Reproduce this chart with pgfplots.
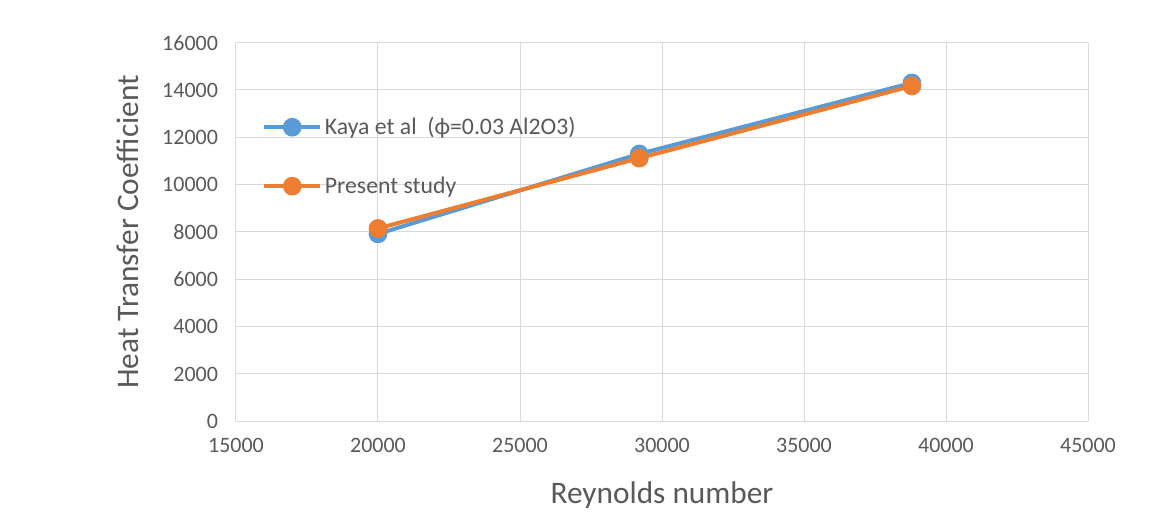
\documentclass[border=0pt]{standalone}
\usepackage{fontspec}
\setmainfont{Carlito}
\usepackage{pgfplots}
\pgfplotsset{compat=1.18}
\definecolor{txtgray}{HTML}{595959}
\definecolor{gridgray}{HTML}{D9D9D9}
\definecolor{kayablue}{HTML}{5B9BD5}
\definecolor{presorange}{HTML}{ED7D31}
\begin{document}
\begin{tikzpicture}
\useasboundingbox (-177pt,-71pt) rectangle (684.75pt,316pt);
\begin{axis}[
  scale only axis, width=639pt, height=284pt,
  xmin=15000, xmax=45000, ymin=0, ymax=16000,
  xtick distance=5000, ytick distance=2000,
  grid=major, major grid style={gridgray, line width=0.75pt},
  axis line style={draw=none}, tick style={draw=none},
  ticklabel style={font=\fontsize{16.5}{19}\selectfont, text=txtgray},
  xticklabel style={yshift=-9pt},
  yticklabel style={xshift=-10pt},
  /pgf/number format/assume math mode=true,
  /pgf/number format/1000 sep={},
  scaled ticks=false,
  xlabel={Reynolds number}, ylabel={Heat Transfer Coefficient},
  label style={font=\fontsize{23.5}{28}\selectfont, text=txtgray},
  xlabel style={at={(axis description cs:0.5,-0.1937)}, anchor=center},
  ylabel style={at={(axis description cs:-0.1268,0.5)}, anchor=center},
  legend style={at={(axis description cs:0.0305,0.81)}, anchor=north west,
    draw=none, fill=none, font=\fontsize{17.8}{21}\selectfont, text=txtgray,
    row sep=26pt, inner sep=0pt},
  legend cell align=left,
  legend image code/.code={\draw[mark repeat=2,mark phase=2] plot coordinates {(0pt,0pt) (21pt,0pt) (42pt,0pt)};},
  every axis plot/.append style={line width=3pt, mark=*, mark size=5.5pt, line join=round},
]
\addplot[kayablue] coordinates {(20000,7920) (29200,11300) (38800,14300)};
\addlegendentry{Kaya et al\ \ (ϕ=0.03 Al2O3)}
\addplot[presorange] coordinates {(20000,8150) (29200,11120) (38800,14170)};
\addlegendentry{Present study}
\end{axis}
\end{tikzpicture}
\end{document}
